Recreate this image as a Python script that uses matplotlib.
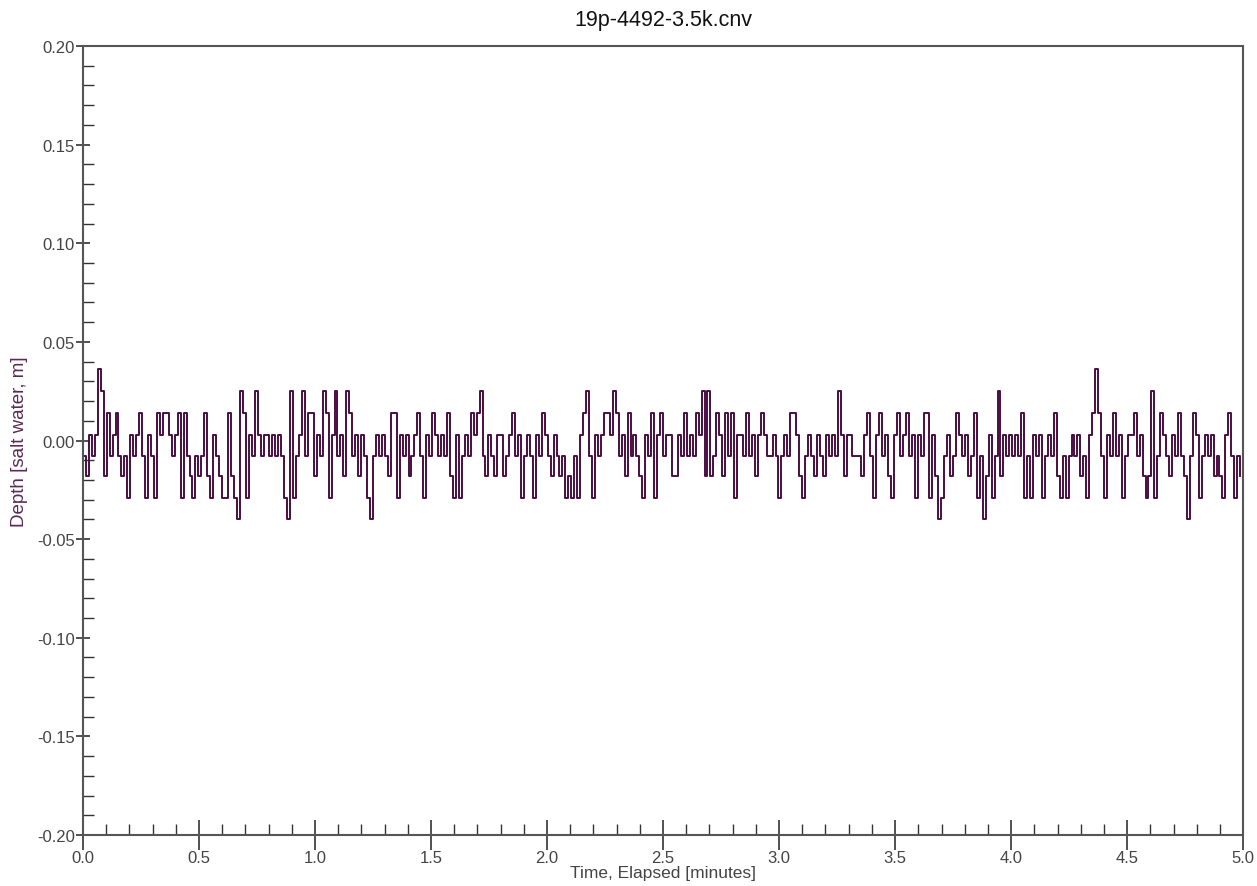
import numpy as np
import matplotlib
matplotlib.use("Agg")
import matplotlib.pyplot as plt
from matplotlib.ticker import MultipleLocator, FormatStrFormatter

# depth readings in millimetres, one list per half minute
seg1 = [-8, -18, 3, -8, 3, 36, 25, -18, 14, -8, 3, 14, -8, -18, -8, -29, 3, -8, 3, 14,
        -8, -29, 3, -8, -29, 14, 3, 14, 14, 3, -8, 3, 14, -29, 14, -8, -18, -29, -8, -18]
seg2 = [-8, 14, -18, -29, 3, -8, -18, -29, -29, 14, -18, -29, -40, 25, 14, -29, 3, -8, 25, 3,
        -8, 3, 3, -8, 3, -8, 3, -8, -29, -40, 25, -29, -8, 3, 25, -8, 14, 14, -18, 3]
seg3 = [-8, 25, 14, -29, 3, 25, -8, 3, -18, 25, 14, -8, 3, -18, 3, -8, -29, -40, -8, 3,
        -8, 3, -8, -18, 14, 14, -29, 3, -8, 3, -18, -8, 3, 14, -8, -29, 3, -8, 14, 3]
seg4 = [-8, 3, -8, 14, -18, -29, 3, -29, -8, 3, -8, 14, 3, 14, 25, -8, -18, 3, -8, -18,
        3, 3, -18, -8, 3, 14, -8, 3, -29, -8, 3, -8, -29, 3, -8, 14, 3, -8, -18, 3]
seg5 = [-8, -18, -8, -29, -18, -29, -8, -29, 3, 14, 25, -8, -29, 3, -8, 3, 14, 14, 3, 25,
        14, -8, 3, -18, 14, -8, 3, -8, -18, -29, 3, -8, 14, -29, 3, 14]
seg6 = [-8, 3, 3, -18, -18, 3, -8, 14, -8, 3, -8, 14, 3, 25, -18, 25, -18, -8, 14, 3,
        -18, 14, -8, 14, -29, 3, 3, -8, 14, -8, 3, -18, 3, 14, 3, -8, -8, 3, -8, -29]
seg7 = [-8, 3, -8, 14, 14, 3, -18, -29, -8, 3, -8, -18, 3, -8, -18, 3, -8, 3, -8, 25,
        3, -18, 3, 3, -8, -8, -8, -18, 3, 14, -8, -29, 3, 14, -8, 3, -18, -29, 3, 14]
seg8 = [-8, 3, 14, -8, 3, -29, 3, -8, 14, 14, -29, 3, -18, -40, -29, -8, 3, -18, -8, 14,
        3, -8, 3, -18, -8, 14, -29, -8, -40, -18, 3, -29, -8, 25, -18, 3, -8, 3, -8, 3]
seg9 = [-8, 14, -29, -8, -29, 3, -8, 3, -29, -8, 3, -8, 14, -18, -29, -8, -29, -8, 3, -8,
        3, -18, -8, -29, 3, 14, 36, 14, -8, -29, 3, -8, 14, -8, 3, -29, -8, 3, 3, 14]
seg10 = [-8, 3, -18, -29, -18, 25, -29, -8, 14, 3, -8, -18, 3, -8, 14, -8, -18, -40, -8, 14,
         3, -29, -8, 3, -8, 3, -18, -8, -18, -29, 3, 14, -8, -29, -8, -18]

depth_mm = seg1 + seg2 + seg3 + seg4 + seg5 + seg6 + seg7 + seg8 + seg9 + seg10
depth = np.array(depth_mm) / 1000.0
t_end = 5.0
time_min = np.arange(len(depth)) * (t_end / len(depth))

plt.rcParams['font.family'] = ['Liberation Sans', 'DejaVu Sans']

fig = plt.figure(figsize=(12.57, 8.87), dpi=100)
ax = fig.add_axes([0.066, 0.0575, 0.923, 0.8895])

ax.plot(time_min, depth, color='#4a0d42', lw=1.4, drawstyle='steps-post')

ax.set_xlim(0, 5.0)
ax.set_ylim(-0.20, 0.20)
ax.xaxis.set_major_locator(MultipleLocator(0.5))
ax.xaxis.set_minor_locator(MultipleLocator(0.1))
ax.yaxis.set_major_locator(MultipleLocator(0.05))
ax.yaxis.set_minor_locator(MultipleLocator(0.01))
ax.xaxis.set_major_formatter(FormatStrFormatter('%.1f'))
ax.yaxis.set_major_formatter(plt.FuncFormatter(lambda v, p: '%.2f' % (0.0 if abs(v) < 1e-9 else v)))

ax.tick_params(axis='x', which='major', direction='inout', length=22, width=1.2,
               color='#333333', labelsize=12, labelcolor='#444444', pad=0)
ax.tick_params(axis='x', which='minor', direction='in', length=8, width=1.0, color='#333333')
ax.tick_params(axis='y', which='major', direction='inout', length=10, width=1.2,
               color='#333333', labelsize=12, labelcolor='#444444', pad=1)
ax.tick_params(axis='y', which='minor', direction='in', length=8, width=1.0, color='#333333')

for s in ax.spines.values():
    s.set_color('#555555')
    s.set_linewidth(1.5)

ax.set_title('19p-4492-3.5k.cnv', fontsize=15.5, color='#111111', pad=15)
ax.set_xlabel('Time, Elapsed [minutes]', fontsize=12.5, color='#444444', labelpad=0)
ax.set_ylabel('Depth [salt water, m]', fontsize=13.5, color='#5a2a55')
ax.yaxis.set_label_coords(-0.047, 0.5)

fig.savefig('out.png', dpi=100, facecolor='white')
